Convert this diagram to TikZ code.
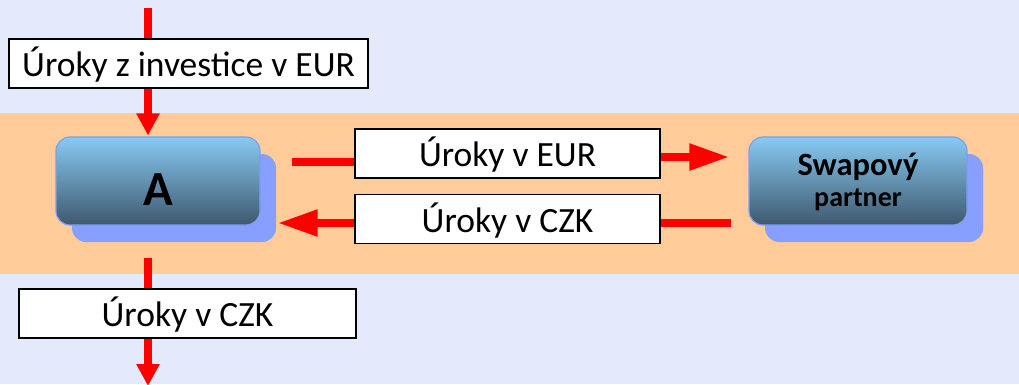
\documentclass[tikz,border=0pt]{standalone}
\usepackage{fontspec}
\setmainfont{Carlito}
\usetikzlibrary{arrows.meta,shadows}

\definecolor{pagebg}{RGB}{228,233,252}
\definecolor{band}{RGB}{255,204,153}
\definecolor{boxtop}{RGB}{136,202,243}
\definecolor{boxbot}{RGB}{62,88,110}
\definecolor{boxedge}{RGB}{122,160,240}
\definecolor{shadowblue}{RGB}{135,160,255}
\definecolor{flowred}{RGB}{255,0,0}

\pgfdeclarelayer{back}
\pgfdeclarelayer{flow}
\pgfsetlayers{back,flow,main}

\tikzset{
  party/.style={rounded corners=14pt, minimum width=#1, minimum height=88pt,
    inner sep=0pt, top color=boxtop, bottom color=boxbot, draw=boxedge,
    line width=1.2pt,
    drop shadow={shadow xshift=16pt, shadow yshift=-17pt, fill=shadowblue, opacity=1}},
  partytext/.style={anchor=base, inner sep=0pt, font=\fontsize{#1}{#1}\selectfont\bfseries},
  tag/.style={draw=black, line width=1.3pt, fill=white, inner sep=0pt,
    minimum width=#1, minimum height=49pt,
    font=\fontsize{35.5pt}{40pt}\selectfont, text height=26pt, text depth=0pt},
  vflow/.style={draw=flowred, line width=7.5pt,
    -{Triangle[length=22pt,width=22pt]}},
  hflow/.style={draw=flowred, line width=8pt,
    -{Triangle[length=40pt,width=25pt]}},
  hline/.style={draw=flowred, line width=8pt},
}

\begin{document}
\begin{tikzpicture}[x=1pt,y=-1pt]
  \useasboundingbox (0,0) rectangle (1019,384);

  % page and the band of the swap deal
  \begin{pgfonlayer}{back}
    \fill[pagebg] (0,0) rectangle (1019,384);
    \fill[band] (0,113) rectangle (1019,274);
  \end{pgfonlayer}

  % counterparties
  \node[party=204pt, font=\fontsize{49pt}{52pt}\selectfont\bfseries,
        text height=48pt, text depth=0pt] (A) at (158,181) {A};
  \node[party=218pt] (swap) at (858,181) {};
  \node[partytext=32.5pt] (swapA) at (858,175) {Swapový};
  \node[partytext=28pt] (swapB) at (858,206.5) {partner};

  % cash-flow labels
  \node[tag=359pt] (inv) at (188.5,63.5) {Úroky z investice v EUR};
  \node[tag=305pt] (eur) at (507.5,153.5) {Úroky v EUR};
  \node[tag=305pt] (czk) at (507.5,219) {Úroky v CZK};
  \node[tag=337pt] (out) at (187.5,313.5) {Úroky v CZK};

  % free ends of the flows
  \coordinate (src)  at (148,8);
  \coordinate (sink) at (148,386);
  \coordinate (eurL) at (292,162);
  \coordinate (eurR) at (0,157);
  \coordinate (czkR) at (731,223);

  \begin{pgfonlayer}{flow}
    \draw[vflow, shorten >=1pt] (src) -- (src |- A.north);
    \draw[vflow, shorten <=32pt] (sink |- A.south) -- (sink);
    \draw[hline] (eurL) -- (eurL -| eur.west);
    \draw[hflow, shorten >=19pt] (eurR -| eur.east) -- (eurR -| swap.west);
    \draw[hline] (czkR) -- (czkR -| czk.east);
    \draw[hflow, shorten >=17pt] (czkR -| czk.west) -- (czkR -| A.east);
  \end{pgfonlayer}
\end{tikzpicture}
\end{document}
